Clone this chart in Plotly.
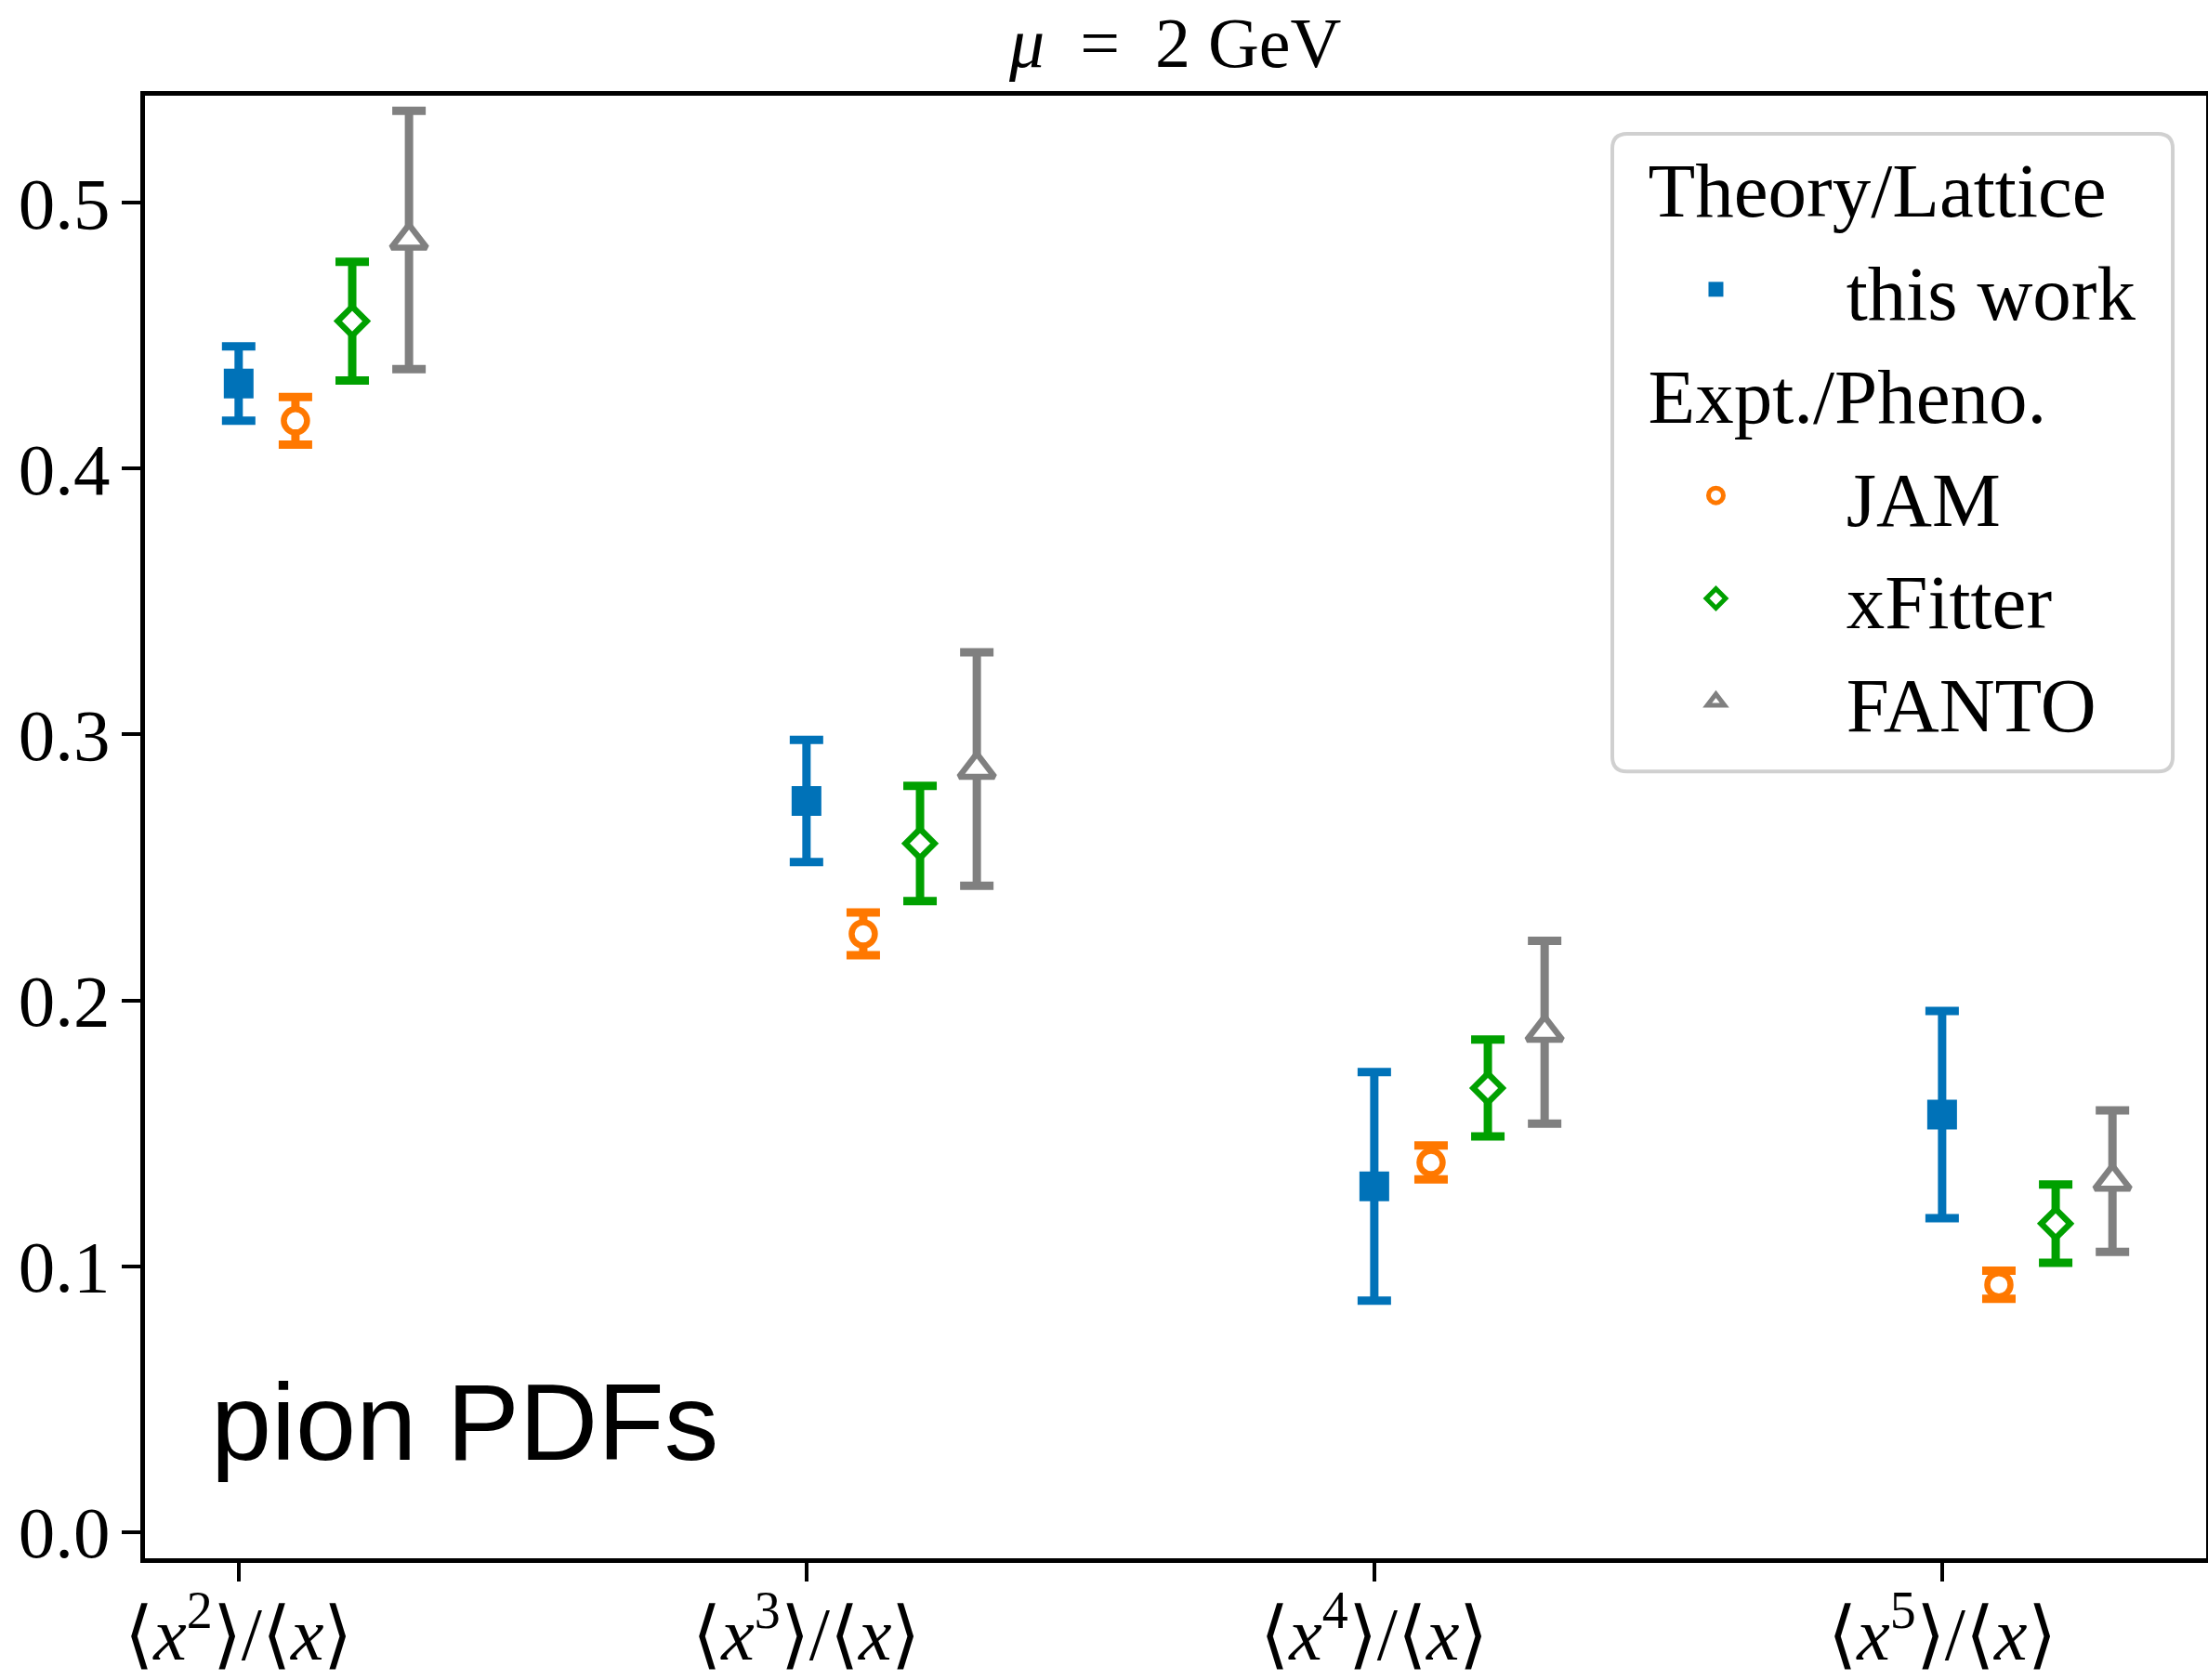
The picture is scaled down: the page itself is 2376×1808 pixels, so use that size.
import numpy as np
import plotly.graph_objects as go

# ---- data ----
categories = ["⟨<i>x</i><sup>2</sup>⟩/⟨<i>x</i>⟩", "⟨<i>x</i><sup>3</sup>⟩/⟨<i>x</i>⟩",
              "⟨<i>x</i><sup>4</sup>⟩/⟨<i>x</i>⟩", "⟨<i>x</i><sup>5</sup>⟩/⟨<i>x</i>⟩"]
this_work = [0.432, 0.275, 0.130, 0.157]
this_work_err = [0.014, 0.023, 0.043, 0.039]
jam = [0.418, 0.225, 0.139, 0.093]
jam_err = [0.009, 0.008, 0.0064, 0.0053]
xfitter = [0.4555, 0.259, 0.167, 0.116]
xfitter_err = [0.0223, 0.0217, 0.0182, 0.0147]
fanto = [0.486, 0.287, 0.188, 0.132]
fanto_err = [0.0486, 0.0439, 0.0344, 0.0266]
y_ticks = [0.0, 0.1, 0.2, 0.3, 0.4, 0.5]

SERIF = "Liberation Serif, Times New Roman, serif"
NB = "\u00a0"

series = [
    dict(name="this work", y=this_work, e=this_work_err, color="#0072b8", symbol="square",
         size=32, fill=True, group="theory", gtitle="Theory/Lattice"),
    dict(name="JAM", y=jam, e=jam_err, color="#ff7800", symbol="circle",
         size=25, fill=False, group="expt", gtitle="Expt./Pheno."),
    dict(name="xFitter", y=xfitter, e=xfitter_err, color="#00a000", symbol="diamond",
         size=24, fill=False, group="expt", gtitle=None),
    dict(name="FANTO", y=fanto, e=fanto_err, color="#808080", symbol="triangle-up",
         size=33, fill=False, group="expt", gtitle=None),
]

base = np.arange(len(categories))
fig = go.Figure()
for j, s in enumerate(series):
    marker = dict(symbol=s["symbol"], size=s["size"])
    if s["fill"]:
        marker.update(color=s["color"], line=dict(width=0))
    else:
        marker.update(color="white", line=dict(color=s["color"], width=6.5))
    kw = dict(legendgroup=s["group"])
    if s["gtitle"]:
        kw["legendgrouptitle"] = dict(text=s["gtitle"], font=dict(family=SERIF, size=83, color="black"))
    fig.add_trace(go.Scatter(
        x=base + 0.1 * j, y=s["y"], mode="markers", name=NB * 3 + s["name"],
        marker=marker,
        error_y=dict(type="data", array=s["e"], visible=True, color=s["color"],
                     thickness=9, width=18),
        **kw,
    ))

# legend frame (rounded)
x0, x1, y0, y1 = 0.7119, 0.9838, 0.538, 0.974
rx, ry = 16 / 2218, 16 / 1574
path = (f"M {x0+rx},{y0} L {x1-rx},{y0} Q {x1},{y0} {x1},{y0+ry} L {x1},{y1-ry} "
        f"Q {x1},{y1} {x1-rx},{y1} L {x0+rx},{y1} Q {x0},{y1} {x0},{y1-ry} "
        f"L {x0},{y0+ry} Q {x0},{y0} {x0+rx},{y0} Z")
fig.add_shape(type="path", path=path, xref="paper", yref="paper",
              line=dict(color="#d0d0d0", width=4), fillcolor="white", layer="below")

fig.add_annotation(text="pion PDFs", xref="paper", yref="paper", x=0.031, y=0.05,
                   xanchor="left", yanchor="bottom", showarrow=False,
                   font=dict(family="Liberation Sans, Arial, sans-serif", size=117, color="black"))

fig.update_layout(
    width=2376, height=1808,
    margin=dict(l=156, r=2, t=103, b=131, autoexpand=False),
    paper_bgcolor="white", plot_bgcolor="white",
    title=dict(text="<i>μ</i>" + NB * 2 + "=" + NB * 2 + "2 GeV", x=0.5323, xanchor="center",
               xref="container", y=1 - 72 / 1808, yanchor="bottom", yref="container",
               font=dict(family=SERIF, size=76, color="black")),
    showlegend=True,
    legend=dict(x=0.727, y=0.9765, xanchor="left", yanchor="top",
                bgcolor="rgba(0,0,0,0)", borderwidth=0, itemwidth=146,
                tracegroupgap=0, font=dict(family=SERIF, size=83, color="black"),
                traceorder="grouped"),
    xaxis=dict(range=[-0.165, 3.465], tickvals=list(base), ticktext=categories,
               automargin=False, ticklabelstandoff=-12,
               showgrid=False, zeroline=False, showline=True, linecolor="black",
               linewidth=4.5, mirror=True, ticks="outside", ticklen=20, tickwidth=4,
               tickcolor="black", tickfont=dict(family=SERIF, size=80, color="black")),
    yaxis=dict(range=[-0.0099, 0.5403], tickvals=y_ticks,
               ticktext=[f"{v:.1f}" for v in y_ticks], automargin=False,
               showgrid=False, zeroline=False, showline=True, linecolor="black",
               linewidth=4.5, mirror=True, ticks="outside", ticklen=20, tickwidth=4,
               tickcolor="black", ticklabelstandoff=-3,
               tickfont=dict(family=SERIF, size=79, color="black")),
)

fig.write_html("out.html", config={"displayModeBar": False},
               post_script="document.body.style.margin='0';")
